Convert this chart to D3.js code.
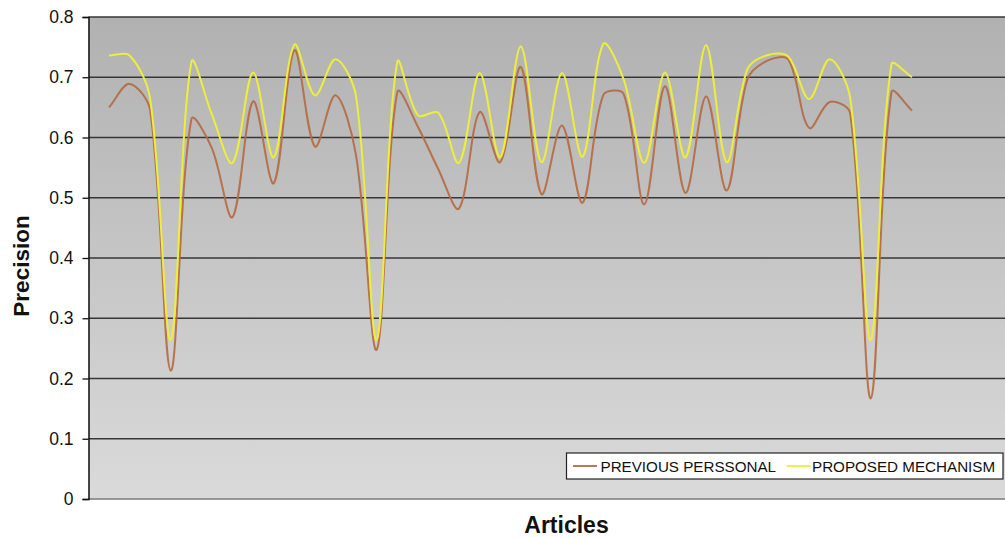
<!DOCTYPE html>
<html>
<head>
<meta charset="utf-8">
<script src="https://cdn.jsdelivr.net/npm/d3@7"></script>
<style>
  html, body { margin: 0; padding: 0; background: #ffffff; }
  svg { display: block; font-family: Arial, "Liberation Sans", sans-serif; }
</style>
</head>
<body>
<svg id="chart" width="1005" height="538"></svg>
<script>
// Articles 1..40
const articles = d3.range(1, 41);

const seriesNames = ["PREVIOUS PERSSONAL", "PROPOSED MECHANISM"];

const previousPersonal = [
  0.650, 0.689, 0.645, 0.213, 0.630, 0.582, 0.468, 0.660, 0.524, 0.745,
  0.585, 0.670, 0.570, 0.248, 0.675, 0.618, 0.547, 0.482, 0.642, 0.559,
  0.717, 0.506, 0.620, 0.492, 0.670, 0.672, 0.489, 0.685, 0.508, 0.668,
  0.512, 0.696, 0.728, 0.729, 0.616, 0.659, 0.640, 0.167, 0.675, 0.645
];

const proposedMechanism = [
  0.736, 0.736, 0.664, 0.264, 0.725, 0.638, 0.558, 0.708, 0.567, 0.754,
  0.670, 0.730, 0.668, 0.264, 0.725, 0.637, 0.641, 0.558, 0.707, 0.567,
  0.751, 0.559, 0.707, 0.568, 0.755, 0.696, 0.558, 0.708, 0.567, 0.753,
  0.559, 0.713, 0.737, 0.734, 0.664, 0.730, 0.665, 0.264, 0.721, 0.700
];

const yTicks = [0, 0.1, 0.2, 0.3, 0.4, 0.5, 0.6, 0.7, 0.8];

const seriesColors = ["#b4693f", "#eded3c"];

// Plot frame
const plot = { left: 88.5, right: 1005, top: 17, bottom: 499 };

// Smoothed-line curve: Bezier handles follow the neighbour chord, with a
// length weighted by the adjacent segment lengths (keeps overshoot small
// next to steep drops while dips stay rounded).
function curveSmoothLine(context) {
  let pts = [];
  const tension = 1 / 3;
  const dist = (a, b) => Math.hypot(b[0] - a[0], b[1] - a[1]);
  return {
    areaStart() {}, areaEnd() {},
    lineStart() { pts = []; },
    point(x, y) { pts.push([+x, +y]); },
    lineEnd() {
      const n = pts.length;
      if (!n) return;
      context.moveTo(pts[0][0], pts[0][1]);
      for (let i = 0; i < n - 1; i++) {
        const p0 = pts[Math.max(i - 1, 0)];
        const p1 = pts[i];
        const p2 = pts[i + 1];
        const p3 = pts[Math.min(i + 2, n - 1)];
        const d01 = dist(p0, p1), d12 = dist(p1, p2), d23 = dist(p2, p3);
        const f1 = (d01 + d12) > 0 ? d12 / (d01 + d12) : 0;
        const f2 = (d12 + d23) > 0 ? d12 / (d12 + d23) : 0;
        const c1 = [p1[0] + (p2[0] - p0[0]) * f1 * tension,
                    p1[1] + (p2[1] - p0[1]) * f1 * tension];
        const c2 = [p2[0] - (p3[0] - p1[0]) * f2 * tension,
                    p2[1] - (p3[1] - p1[1]) * f2 * tension];
        context.bezierCurveTo(c1[0], c1[1], c2[0], c2[1], p2[0], p2[1]);
      }
    }
  };
}

const svg = d3.select("#chart");

const x = d3.scalePoint()
  .domain(articles)
  .range([109, 912]);

const y = d3.scaleLinear()
  .domain([0, 0.8])
  .range([plot.bottom, plot.top]);

// Plot background: vertical grey gradient
const defs = svg.append("defs");
const grad = defs.append("linearGradient")
  .attr("id", "plotBg")
  .attr("x1", 0).attr("y1", 0).attr("x2", 0).attr("y2", 1);
grad.append("stop").attr("offset", "0%").attr("stop-color", "#b1b1b1");
grad.append("stop").attr("offset", "100%").attr("stop-color", "#dadada");

svg.append("rect")
  .attr("x", plot.left)
  .attr("y", plot.top)
  .attr("width", plot.right - plot.left)
  .attr("height", plot.bottom - plot.top)
  .attr("fill", "url(#plotBg)");

// Horizontal gridlines
svg.append("g")
  .selectAll("line")
  .data(yTicks.filter(d => d > 0))
  .join("line")
  .attr("x1", plot.left)
  .attr("x2", plot.right)
  .attr("y1", d => y(d))
  .attr("y2", d => y(d))
  .attr("stroke", "#363636")
  .attr("stroke-width", 1.6);

// Bottom baseline
svg.append("line")
  .attr("x1", plot.left).attr("x2", plot.right)
  .attr("y1", y(0)).attr("y2", y(0))
  .attr("stroke", "#7a7a7a")
  .attr("stroke-width", 1.5);

// Y axis
const yAxis = d3.axisLeft(y)
  .tickValues(yTicks)
  .tickFormat(d => d === 0 ? "0" : d3.format(".1f")(d))
  .tickSize(6)
  .tickPadding(9);

const yAxisG = svg.append("g")
  .attr("transform", `translate(${plot.left},0)`)
  .call(yAxis);

yAxisG.select(".domain")
  .attr("stroke", "#111")
  .attr("stroke-width", 1.5);
yAxisG.selectAll(".tick line")
  .attr("stroke", "#111")
  .attr("stroke-width", 1.3);
yAxisG.selectAll(".tick text")
  .attr("fill", "#111")
  .style("font-size", "17.5px")
  .style("font-family", "Arial, 'Liberation Sans', sans-serif");

// Series lines
const line = d3.line()
  .x((d, i) => x(articles[i]))
  .y(d => y(d))
  .curve(curveSmoothLine);

const series = [previousPersonal, proposedMechanism];

svg.append("g")
  .selectAll("path")
  .data(series)
  .join("path")
  .attr("d", d => line(d))
  .attr("fill", "none")
  .attr("stroke", (d, i) => seriesColors[i])
  .attr("stroke-width", 2)
  .attr("stroke-opacity", (d, i) => i === 0 ? 0.9 : 1)
  .attr("stroke-linejoin", "round");

// Axis titles
svg.append("text")
  .attr("transform", "translate(29,266) rotate(-90)")
  .attr("text-anchor", "middle")
  .style("font-size", "22.5px")
  .style("font-weight", "bold")
  .attr("fill", "#111")
  .text("Precision");

svg.append("text")
  .attr("x", 566.5)
  .attr("y", 533)
  .attr("text-anchor", "middle")
  .style("font-size", "23px")
  .style("font-weight", "bold")
  .attr("fill", "#111")
  .text("Articles");

// Legend
const legend = svg.append("g");
legend.append("rect")
  .attr("x", 566.5)
  .attr("y", 453)
  .attr("width", 436.5)
  .attr("height", 26)
  .attr("fill", "#ffffff")
  .attr("stroke", "#222")
  .attr("stroke-width", 1.2);

const legendItems = [
  { name: seriesNames[0], color: seriesColors[0], lx: 573, tx: 600.5 },
  { name: seriesNames[1], color: seriesColors[1], lx: 786.5, tx: 812 }
];

legendItems.forEach(item => {
  legend.append("line")
    .attr("x1", item.lx).attr("x2", item.lx + 24)
    .attr("y1", 466).attr("y2", 466)
    .attr("stroke", item.color)
    .attr("stroke-width", 1.8);
  legend.append("text")
    .attr("x", item.tx)
    .attr("y", 471.5)
    .style("font-size", "15.2px")
    .attr("fill", "#111")
    .text(item.name);
});
</script>
</body>
</html>
